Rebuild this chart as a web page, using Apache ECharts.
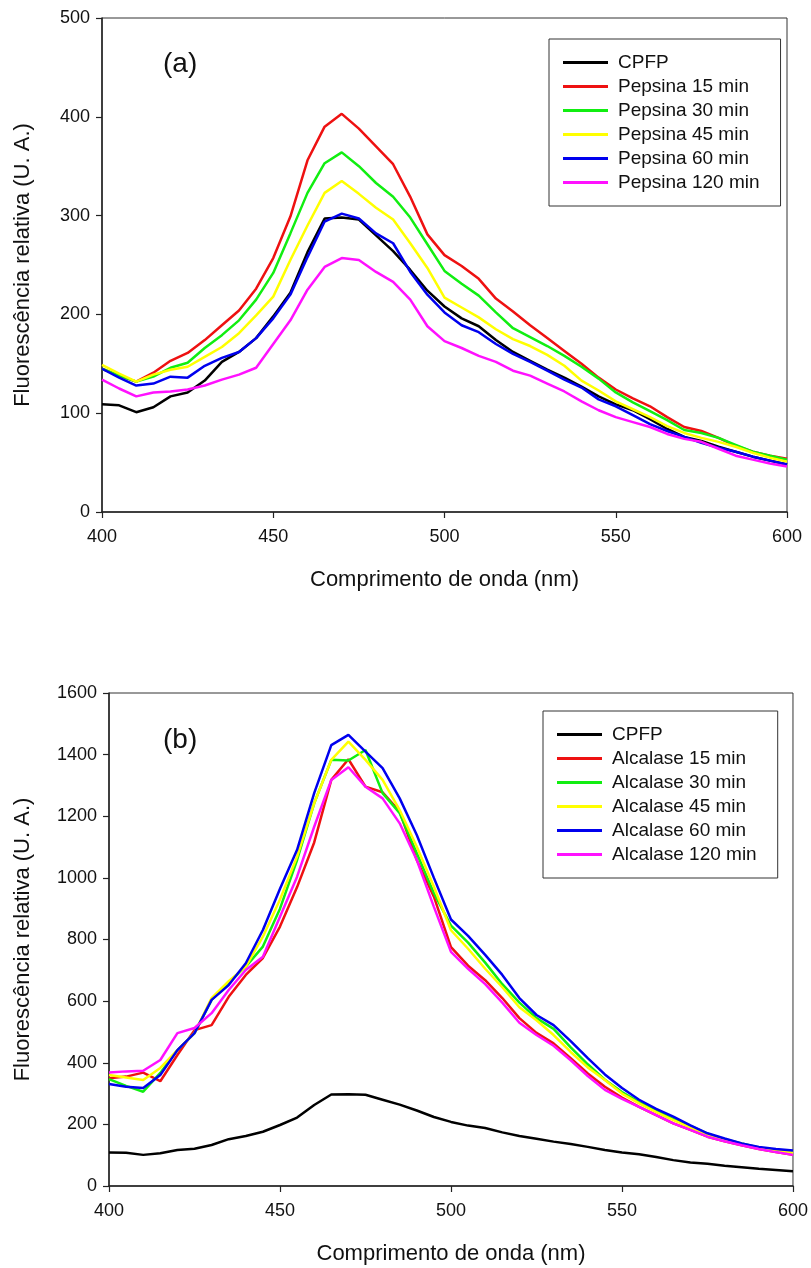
<!DOCTYPE html>
<html>
<head>
<meta charset="utf-8">
<script src="https://cdn.jsdelivr.net/npm/echarts@6/dist/echarts.min.js"></script>
<style>
  html, body { margin: 0; padding: 0; background: #fff; }
  #chart { width: 811px; height: 1268px; }
</style>
</head>
<body>
<div id="chart"></div>
<script>
// Emission wavelengths (nm)
const wavelength = [400,405,410,415,420,425,430,435,440,445,450,455,460,465,470,475,480,485,490,495,
                    500,505,510,515,520,525,530,535,540,545,550,555,560,565,570,575,580,585,590,595,600];

// Native protein (same spectrum in both panels)
const cpfp = [109,108,101,106,117,121,133,152,162,176,198,222,263,297,298,296,280,264,245,224,
              208,196,188,174,162,153,144,136,127,117,109,103,94,84,76,72,66,61,56,52,48];

// (a) Pepsin hydrolysates
const pepsina15 = [145,138,132,141,153,161,174,189,204,226,257,299,356,390,403,388,370,352,319,281,
                   260,249,236,216,203,189,176,163,150,136,124,115,107,96,86,82,75,67,61,57,54];
const pepsina30 = [145,138,132,137,146,151,166,179,194,215,242,282,323,353,364,350,333,319,298,271,
                   244,231,219,202,186,177,168,158,147,135,121,111,102,93,83,80,75,68,61,57,53];
const pepsina45 = [149,140,132,139,144,147,157,167,181,199,218,255,290,323,335,322,308,296,272,247,
                   217,207,197,185,175,168,159,148,133,123,112,104,96,87,80,75,71,66,60,55,51];
const pepsina60 = [145,136,128,130,137,136,148,156,162,176,196,220,258,294,302,297,282,272,243,220,
                   202,189,182,170,160,152,143,134,126,114,107,98,89,82,76,70,65,61,56,52,48];
const pepsina120 = [134,125,117,121,122,124,128,134,139,146,170,194,225,248,257,255,243,233,215,188,
                    173,166,158,152,143,138,130,122,112,103,96,91,86,79,74,71,64,57,53,49,46];

// (b) Alcalase hydrolysates
const alcalase15 = [350,355,368,340,425,506,522,614,685,740,842,970,1115,1318,1385,1296,1278,1215,1058,939,
                    775,715,668,610,545,497,463,415,365,322,287,257,230,203,182,160,145,132,120,110,101];
const alcalase30 = [347,325,306,367,441,496,604,660,712,777,900,1058,1242,1383,1381,1415,1275,1210,1080,950,
                    845,790,725,655,595,545,510,450,395,345,305,272,245,218,195,170,152,138,125,115,107];
const alcalase45 = [360,352,344,383,441,496,610,665,712,809,930,1069,1242,1383,1442,1383,1318,1220,1101,971,
                    830,770,705,645,580,538,490,435,385,344,300,268,240,214,190,166,150,136,124,115,108];
const alcalase60 = [331,322,318,360,441,496,604,652,723,831,965,1091,1275,1431,1464,1410,1356,1258,1139,1000,
                    865,812,750,685,610,555,522,470,415,362,318,280,250,225,197,171,154,138,127,120,115];
const alcalase120 = [368,372,374,409,496,513,561,636,701,744,874,1004,1166,1318,1359,1296,1258,1177,1058,906,
                     760,705,655,595,530,490,455,408,357,312,283,257,230,203,182,160,145,132,120,110,101];

const namesA = ['CPFP', 'Pepsina 15 min', 'Pepsina 30 min', 'Pepsina 45 min', 'Pepsina 60 min', 'Pepsina 120 min'];
const namesB = ['CPFP', 'Alcalase 15 min', 'Alcalase 30 min', 'Alcalase 45 min', 'Alcalase 60 min', 'Alcalase 120 min'];
const valuesA = [cpfp, pepsina15, pepsina30, pepsina45, pepsina60, pepsina120];
const valuesB = [cpfp, alcalase15, alcalase30, alcalase45, alcalase60, alcalase120];
const lineColors = ['#000000', '#ee1111', '#11ee11', '#ffff00', '#0000ee', '#ff11ff'];

const xTitle = 'Comprimento de onda (nm)';
const yTitle = 'Fluorescência relativa (U. A.)';
const FONT = '"Liberation Sans", Arial, sans-serif';
const INK = '#111';

function makeSeries(names, values, idx) {
  return names.map((name, i) => ({
    name: name,
    type: 'line',
    xAxisIndex: idx,
    yAxisIndex: idx,
    symbol: 'none',
    smooth: false,
    lineStyle: { color: lineColors[i], width: 2.5 },
    itemStyle: { color: lineColors[i] },
    data: wavelength.map((w, k) => [w, values[i][k]])
  }));
}

function xAxis(idx) {
  return {
    gridIndex: idx, type: 'value', min: 400, max: 600, interval: 50,
    axisLine: { show: true, lineStyle: { color: '#222', width: 1.5 } },
    axisTick: { show: true, length: 6, inside: false, lineStyle: { color: '#222', width: 1.2 } },
    splitLine: { show: false },
    axisLabel: { fontFamily: FONT, fontSize: 18, color: INK, margin: 16, formatter: v => String(v) },
    name: xTitle, nameLocation: 'middle', nameGap: 57,
    nameTextStyle: { fontFamily: FONT, fontSize: 22, color: INK }
  };
}

function yAxis(idx, max, interval, gap) {
  return {
    gridIndex: idx, type: 'value', min: 0, max: max, interval: interval,
    axisLine: { show: true, lineStyle: { color: '#222', width: 1.5 } },
    axisTick: { show: true, length: 6, inside: false, lineStyle: { color: '#222', width: 1.2 } },
    splitLine: { show: false },
    axisLabel: { fontFamily: FONT, fontSize: 18, color: INK, margin: 12, formatter: v => String(v) },
    name: yTitle, nameLocation: 'middle', nameRotate: 90, nameGap: gap, nameMoveOverlap: false,
    nameTextStyle: { fontFamily: FONT, fontSize: 22, color: INK }
  };
}

function legend(names, left, top) {
  return {
    data: names, orient: 'vertical', left: left, top: top,
    icon: 'rect', itemWidth: 45, itemHeight: 3, itemGap: 5,
    padding: [14, 21, 14, 14],
    borderColor: '#333', borderWidth: 1, backgroundColor: '#fff',
    selectedMode: false,
    textStyle: { fontFamily: FONT, fontSize: 19, color: INK, lineHeight: 19, padding: [0, 0, 0, 5] }
  };
}

const chart = echarts.init(document.getElementById('chart'), null, { renderer: 'canvas' });
chart.setOption({
  animation: false,
  backgroundColor: '#fff',
  grid: [
    { left: 102, top: 18, width: 685, height: 494, show: true, borderColor: '#333', borderWidth: 1 },
    { left: 109, top: 693, width: 684, height: 493, show: true, borderColor: '#333', borderWidth: 1 }
  ],
  xAxis: [xAxis(0), xAxis(1)],
  yAxis: [yAxis(0, 500, 100, 68), yAxis(1, 1600, 200, 75)],
  legend: [legend(namesA, 549, 39), legend(namesB, 543, 711)],
  graphic: [
    { type: 'text', left: 163, top: 50, style: { text: '(a)', font: '28px ' + FONT, fill: INK } },
    { type: 'text', left: 163, top: 726, style: { text: '(b)', font: '28px ' + FONT, fill: INK } }
  ],
  series: makeSeries(namesA, valuesA, 0).concat(makeSeries(namesB, valuesB, 1))
});
</script>
</body>
</html>
